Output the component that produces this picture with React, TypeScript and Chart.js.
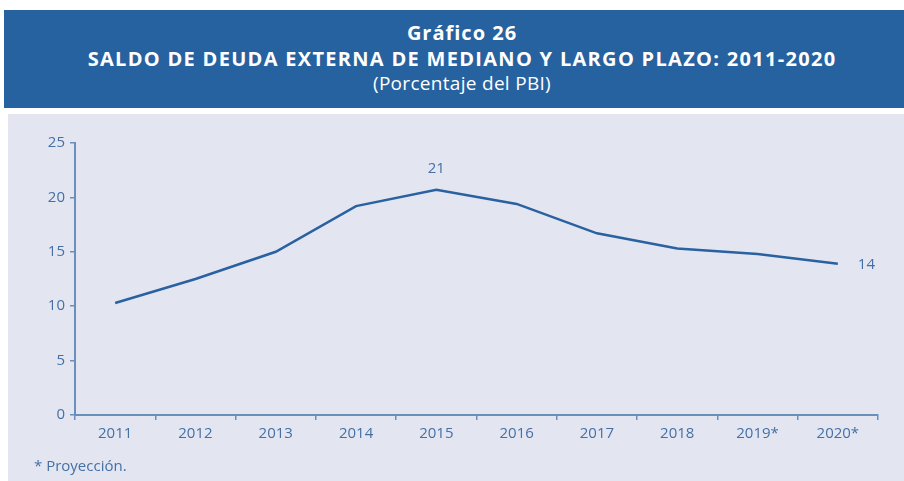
import React, { useEffect, useRef } from "react";
import { Chart, registerables } from "chart.js";

Chart.register(...registerables);

const categories = ["2011", "2012", "2013", "2014", "2015", "2016", "2017", "2018", "2019*", "2020*"];
const debtShare = [10.3, 12.5, 15.0, 19.2, 20.7, 19.4, 16.7, 15.3, 14.8, 13.9];
const pointLabels = ["", "", "", "", "21", "", "", "", "", "14"];
const yTicks = [0, 5, 10, 15, 20, 25];

const TICK_COLOR = "#4470a6";
const AXIS_COLOR = "#6b8fbd";
const LINE_COLOR = "#2961a1";
const FONT = "'Open Sans', 'Noto Sans', sans-serif";

const labelPlugin = {
  id: "pointLabels",
  afterDatasetsDraw(chart: any) {
    const ctx = chart.ctx;
    const meta = chart.getDatasetMeta(0);
    ctx.save();
    ctx.fillStyle = TICK_COLOR;
    ctx.font = "15px " + FONT;
    meta.data.forEach((pt: any, i: number) => {
      const txt = pointLabels[i];
      if (!txt) return;
      if (i === pointLabels.length - 1) {
        ctx.textAlign = "left";
        ctx.textBaseline = "middle";
        ctx.fillText(txt, pt.x + 20, pt.y + 1);
      } else {
        ctx.textAlign = "center";
        ctx.textBaseline = "bottom";
        ctx.fillText(txt, pt.x, pt.y - 14);
      }
    });
    ctx.restore();
  },
};

export default function App() {
  const ref = useRef<HTMLCanvasElement | null>(null);
  useEffect(() => {
    if (!ref.current) return;
    const chart = new Chart(ref.current, {
      type: "line",
      data: {
        labels: categories,
        datasets: [
          {
            data: debtShare,
            borderColor: LINE_COLOR,
            borderWidth: 2.5,
            pointRadius: 0,
            tension: 0,
            fill: false,
          },
        ],
      },
      options: {
        animation: false,
        responsive: false,
        maintainAspectRatio: false,
        layout: { padding: { left: 0, right: 26, top: 29, bottom: 26 } },
        plugins: { legend: { display: false }, tooltip: { enabled: false }, title: { display: false } },
        scales: {
          x: {
            type: "category",
            offset: true,
            grid: {
              offset: true,
              drawOnChartArea: false,
              drawTicks: true,
              tickLength: 5,
              color: AXIS_COLOR,
              lineWidth: 1.5,
            },
            border: { display: true, color: AXIS_COLOR, width: 2 },
            ticks: {
              color: TICK_COLOR,
              font: { family: FONT, size: 15 },
              padding: 5,
              maxRotation: 0,
              autoSkip: false,
            },
            afterFit: (s: any) => {
              s.height = 40;
            },
          },
          y: {
            min: 0,
            max: 25,
            afterBuildTicks: (s: any) => {
              s.ticks = yTicks.map((v) => ({ value: v }));
            },
            grid: {
              drawOnChartArea: false,
              drawTicks: true,
              tickLength: 5,
              color: AXIS_COLOR,
              lineWidth: 1.5,
            },
            border: { display: true, color: AXIS_COLOR, width: 2 },
            ticks: {
              color: TICK_COLOR,
              font: { family: FONT, size: 15 },
              padding: 5,
            },
            afterFit: (s: any) => {
              s.width = 67;
            },
          },
        },
      },
      plugins: [labelPlugin],
    });
    return () => chart.destroy();
  }, []);

  return (
    <div style={{ position: "fixed", left: 0, top: 0, width: 904, height: 481, background: "#ffffff", overflow: "hidden" }}>
      <div
        style={{
          position: "absolute",
          left: 4,
          top: 10,
          width: 900,
          height: 98,
          background: "#2762a0",
          color: "#ffffff",
          textAlign: "center",
          fontFamily: FONT,
        }}
      >
        <div style={{ position: "absolute", left: 16, right: 0, top: 10, fontSize: 20, fontWeight: 700, lineHeight: "26px", letterSpacing: 1 }}>
          Gráfico 26
        </div>
        <div style={{ position: "absolute", left: 16, right: 0, top: 36, fontSize: 20, fontWeight: 700, lineHeight: "26px", letterSpacing: 1.3 }}>
          SALDO DE DEUDA EXTERNA DE MEDIANO Y LARGO PLAZO: 2011-2020
        </div>
        <div style={{ position: "absolute", left: 16, right: 0, top: 61, fontSize: 19, fontWeight: 400, lineHeight: "24px", letterSpacing: 0.3 }}>
          (Porcentaje del PBI)
        </div>
      </div>
      <div style={{ position: "absolute", left: 8, top: 114, width: 896, height: 367, background: "#e3e6f1" }}>
        <canvas ref={ref} width={896} height={367} style={{ position: "absolute", left: 0, top: 0, width: 896, height: 367 }} />
        <div
          style={{
            position: "absolute",
            left: 26,
            top: 341,
            fontSize: 15,
            color: TICK_COLOR,
            fontFamily: FONT,
            lineHeight: "20px",
          }}
        >
          * Proyección.
        </div>
      </div>
    </div>
  );
}
